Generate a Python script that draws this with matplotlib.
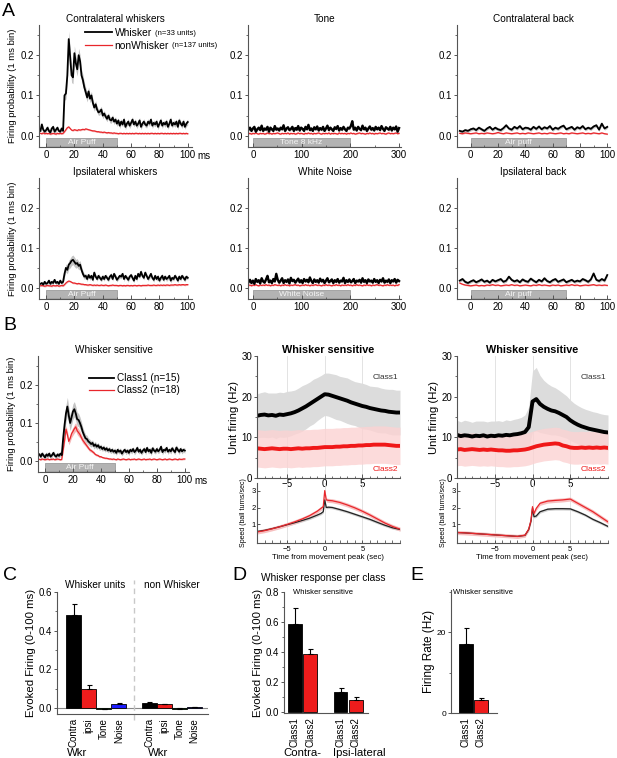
import numpy as np
import matplotlib.pyplot as plt
from matplotlib.ticker import MultipleLocator

plt.rcParams['font.family'] = ['Liberation Sans', 'DejaVu Sans']
plt.rcParams['font.size'] = 7

# ---------------- data ----------------
# A: PSTHs, 1 ms bins (100 ms windows), 3 ms steps (300 ms windows), 2 ms steps (back)
t_a = np.arange(-4, 101)
t_long = np.arange(-9, 301, 3)
t_back = np.arange(-8, 101, 2)

whisker_contra = [
    0.012, 0.028, 0.015, 0.010,
    0.014, 0.020, 0.012, 0.008, 0.018, 0.022, 0.010, 0.015, 0.020, 0.012,
    0.010, 0.018, 0.012, 0.100, 0.105, 0.150, 0.240, 0.195, 0.150, 0.145,
    0.205, 0.180, 0.165, 0.200, 0.185, 0.150, 0.138, 0.120, 0.108, 0.095,
    0.110, 0.092, 0.100, 0.082, 0.070, 0.078, 0.065, 0.058, 0.060, 0.065,
    0.050, 0.055, 0.048, 0.042, 0.050, 0.040, 0.038, 0.045, 0.035, 0.040,
    0.030, 0.038, 0.025, 0.035, 0.028, 0.040, 0.022, 0.030, 0.035, 0.025,
    0.032, 0.040, 0.028, 0.035, 0.025, 0.030, 0.038, 0.022, 0.030, 0.035,
    0.028, 0.025, 0.035, 0.030, 0.040, 0.025, 0.032, 0.028, 0.035, 0.022,
    0.030, 0.038, 0.025, 0.032, 0.028, 0.035, 0.022, 0.030, 0.040, 0.025,
    0.032, 0.028, 0.035, 0.022, 0.038, 0.030, 0.025, 0.035, 0.022, 0.030,
    0.034]
whisker_contra_sem = [
    0.005, 0.005, 0.005, 0.005,
    0.005, 0.006, 0.005, 0.005, 0.006, 0.005, 0.005, 0.006, 0.005, 0.005,
    0.005, 0.006, 0.006, 0.012, 0.014, 0.017, 0.020, 0.020, 0.018, 0.016,
    0.018, 0.018, 0.017, 0.017, 0.016, 0.015, 0.014, 0.013, 0.012, 0.011,
    0.011, 0.010, 0.010, 0.010, 0.009, 0.009, 0.008, 0.008, 0.008, 0.008,
    0.008, 0.007, 0.008, 0.007, 0.007, 0.008, 0.007, 0.007, 0.007, 0.007,
    0.007, 0.006, 0.007, 0.007, 0.006, 0.007, 0.007, 0.006, 0.007, 0.007,
    0.007, 0.007, 0.006, 0.007, 0.007, 0.006, 0.007, 0.007, 0.006, 0.007,
    0.007, 0.006, 0.007, 0.007, 0.006, 0.007, 0.007, 0.006, 0.007, 0.007,
    0.006, 0.007, 0.007, 0.006, 0.007, 0.007, 0.006, 0.007, 0.007, 0.006,
    0.007, 0.007, 0.006, 0.007, 0.007, 0.006, 0.007, 0.007, 0.006, 0.007,
    0.007]
nonwhisker_contra = [
    0.006, 0.005, 0.007, 0.005,
    0.006, 0.005, 0.006, 0.004, 0.005, 0.006, 0.005, 0.004, 0.006, 0.005,
    0.006, 0.005, 0.006, 0.010, 0.015, 0.020, 0.022, 0.018, 0.014, 0.013,
    0.015, 0.014, 0.013, 0.015, 0.014, 0.015, 0.016, 0.015, 0.017, 0.016,
    0.015, 0.014, 0.013, 0.012, 0.012, 0.011, 0.010, 0.010, 0.009, 0.009,
    0.008, 0.009, 0.008, 0.007, 0.008, 0.007, 0.007, 0.006, 0.007, 0.006,
    0.006, 0.005, 0.006, 0.006, 0.005, 0.006, 0.005, 0.006, 0.005, 0.006,
    0.005, 0.006, 0.005, 0.006, 0.006, 0.005, 0.006, 0.005, 0.006, 0.005,
    0.006, 0.005, 0.006, 0.005, 0.006, 0.006, 0.005, 0.006, 0.005, 0.006,
    0.005, 0.006, 0.006, 0.005, 0.006, 0.005, 0.006, 0.005, 0.006, 0.005,
    0.006, 0.005, 0.006, 0.005, 0.006, 0.006, 0.005, 0.006, 0.005, 0.006,
    0.005]

whisker_ipsi = [
    0.010, 0.012, 0.008, 0.015,
    0.010, 0.012, 0.018, 0.010, 0.015, 0.012, 0.020, 0.012, 0.015, 0.010,
    0.018, 0.012, 0.015, 0.035, 0.050, 0.045, 0.058, 0.062, 0.068, 0.070,
    0.065, 0.060, 0.062, 0.055, 0.058, 0.045, 0.035, 0.028, 0.030, 0.022,
    0.032, 0.025, 0.030, 0.020, 0.038, 0.028, 0.022, 0.030, 0.025, 0.020,
    0.028, 0.022, 0.030, 0.025, 0.020, 0.028, 0.032, 0.022, 0.035, 0.028,
    0.020, 0.025, 0.030, 0.028, 0.035, 0.022, 0.030, 0.025, 0.020, 0.028,
    0.032, 0.025, 0.018, 0.030, 0.022, 0.035, 0.028, 0.040, 0.030, 0.025,
    0.038, 0.030, 0.022, 0.028, 0.035, 0.025, 0.020, 0.030, 0.022, 0.028,
    0.018, 0.025, 0.030, 0.020, 0.028, 0.022, 0.025, 0.030, 0.018, 0.025,
    0.022, 0.030, 0.025, 0.018, 0.028, 0.022, 0.030, 0.025, 0.020, 0.028,
    0.025]
whisker_ipsi_sem = [
    0.004, 0.004, 0.004, 0.004,
    0.004, 0.005, 0.004, 0.004, 0.005, 0.004, 0.004, 0.005, 0.004, 0.004,
    0.004, 0.005, 0.004, 0.008, 0.010, 0.010, 0.011, 0.012, 0.012, 0.012,
    0.012, 0.011, 0.011, 0.010, 0.010, 0.009, 0.008, 0.007, 0.006, 0.006,
    0.005, 0.006, 0.005, 0.005, 0.006, 0.005, 0.005, 0.006, 0.005, 0.005,
    0.006, 0.005, 0.005, 0.006, 0.005, 0.005, 0.006, 0.005, 0.005, 0.006,
    0.005, 0.005, 0.006, 0.005, 0.005, 0.006, 0.005, 0.005, 0.006, 0.005,
    0.005, 0.006, 0.005, 0.005, 0.006, 0.005, 0.005, 0.006, 0.005, 0.005,
    0.006, 0.005, 0.005, 0.006, 0.005, 0.005, 0.006, 0.005, 0.005, 0.006,
    0.005, 0.005, 0.006, 0.005, 0.005, 0.006, 0.005, 0.005, 0.006, 0.005,
    0.005, 0.006, 0.005, 0.005, 0.006, 0.005, 0.005, 0.006, 0.005, 0.005,
    0.005]
nonwhisker_ipsi = [
    0.005, 0.006, 0.005, 0.004,
    0.005, 0.006, 0.005, 0.005, 0.004, 0.006, 0.005, 0.005, 0.006, 0.004,
    0.005, 0.006, 0.005, 0.008, 0.012, 0.015, 0.017, 0.016, 0.014, 0.012,
    0.012, 0.011, 0.010, 0.011, 0.010, 0.009, 0.009, 0.008, 0.008, 0.007,
    0.007, 0.008, 0.007, 0.006, 0.007, 0.006, 0.007, 0.006, 0.006, 0.007,
    0.006, 0.006, 0.007, 0.006, 0.005, 0.006, 0.006, 0.007, 0.006, 0.006,
    0.006, 0.005, 0.006, 0.006, 0.005, 0.006, 0.005, 0.006, 0.006, 0.005,
    0.006, 0.005, 0.006, 0.006, 0.005, 0.006, 0.006, 0.005, 0.006, 0.006,
    0.006, 0.006, 0.007, 0.006, 0.006, 0.006, 0.007, 0.006, 0.006, 0.007,
    0.006, 0.007, 0.006, 0.007, 0.006, 0.007, 0.007, 0.006, 0.007, 0.007,
    0.007, 0.008, 0.007, 0.007, 0.008, 0.007, 0.008, 0.008, 0.007, 0.008,
    0.008]

tone_whisker = [
    0.015, 0.020, 0.012, 0.018, 0.022, 0.010, 0.016, 0.020, 0.014, 0.025,
    0.012, 0.018, 0.015, 0.022, 0.010, 0.020, 0.016, 0.012, 0.024, 0.015,
    0.018, 0.013, 0.020, 0.016, 0.026, 0.012, 0.018, 0.021, 0.014, 0.017,
    0.022, 0.012, 0.019, 0.015, 0.024, 0.013, 0.020, 0.017, 0.012, 0.022,
    0.016, 0.027, 0.014, 0.018, 0.012, 0.021, 0.016, 0.023, 0.013, 0.019,
    0.015, 0.022, 0.012, 0.018, 0.025, 0.014, 0.020, 0.016, 0.012, 0.021,
    0.017, 0.024, 0.013, 0.019, 0.015, 0.022, 0.016, 0.012, 0.020, 0.018,
    0.024, 0.036, 0.015, 0.020, 0.013, 0.022, 0.017, 0.014, 0.025, 0.016,
    0.020, 0.012, 0.018, 0.023, 0.015, 0.019, 0.013, 0.022, 0.016, 0.020,
    0.014, 0.024, 0.017, 0.012, 0.021, 0.018, 0.015, 0.022, 0.013, 0.020,
    0.016, 0.023, 0.010, 0.019]
tone_nonwhisker = [
    0.005, 0.006, 0.004, 0.006, 0.005, 0.007, 0.005, 0.004, 0.006, 0.005,
    0.006, 0.004, 0.005, 0.007, 0.005, 0.006, 0.004, 0.006, 0.005, 0.006,
    0.007, 0.005, 0.004, 0.006, 0.005, 0.006, 0.005, 0.007, 0.004, 0.006,
    0.005, 0.006, 0.004, 0.005, 0.007, 0.005, 0.006, 0.005, 0.004, 0.006,
    0.005, 0.007, 0.005, 0.006, 0.004, 0.006, 0.005, 0.006, 0.007, 0.005,
    0.004, 0.006, 0.005, 0.006, 0.005, 0.007, 0.004, 0.006, 0.005, 0.006,
    0.005, 0.004, 0.007, 0.005, 0.006, 0.005, 0.006, 0.004, 0.006, 0.005,
    0.007, 0.005, 0.006, 0.004, 0.005, 0.006, 0.007, 0.005, 0.006, 0.005,
    0.004, 0.006, 0.005, 0.007, 0.005, 0.006, 0.004, 0.006, 0.005, 0.006,
    0.007, 0.005, 0.006, 0.005, 0.004, 0.006, 0.007, 0.005, 0.006, 0.005,
    0.006, 0.007, 0.005, 0.006]

noise_whisker = [
    0.014, 0.020, 0.012, 0.018, 0.010, 0.022, 0.015, 0.019, 0.011, 0.024,
    0.016, 0.013, 0.021, 0.030, 0.014, 0.018, 0.012, 0.022, 0.016, 0.035,
    0.020, 0.013, 0.018, 0.024, 0.012, 0.019, 0.015, 0.021, 0.011, 0.025,
    0.017, 0.020, 0.013, 0.018, 0.023, 0.014, 0.019, 0.012, 0.022, 0.016,
    0.020, 0.014, 0.026, 0.017, 0.012, 0.021, 0.015, 0.019, 0.013, 0.023,
    0.016, 0.020, 0.012, 0.018, 0.024, 0.014, 0.017, 0.021, 0.012, 0.019,
    0.015, 0.022, 0.013, 0.018, 0.016, 0.025, 0.012, 0.019, 0.015, 0.021,
    0.014, 0.017, 0.022, 0.012, 0.018, 0.016, 0.020, 0.013, 0.024, 0.015,
    0.019, 0.012, 0.021, 0.016, 0.018, 0.013, 0.022, 0.015, 0.019, 0.012,
    0.020, 0.016, 0.024, 0.013, 0.018, 0.015, 0.021, 0.012, 0.019, 0.016,
    0.022, 0.013, 0.020, 0.017]
noise_nonwhisker = [
    0.006, 0.007, 0.005, 0.007, 0.006, 0.008, 0.006, 0.005, 0.007, 0.006,
    0.007, 0.006, 0.008, 0.006, 0.007, 0.005, 0.007, 0.006, 0.008, 0.007,
    0.006, 0.007, 0.005, 0.007, 0.006, 0.008, 0.006, 0.007, 0.005, 0.007,
    0.006, 0.007, 0.008, 0.006, 0.007, 0.005, 0.006, 0.007, 0.006, 0.008,
    0.006, 0.007, 0.005, 0.007, 0.006, 0.007, 0.008, 0.006, 0.007, 0.006,
    0.005, 0.007, 0.006, 0.008, 0.006, 0.007, 0.006, 0.005, 0.007, 0.006,
    0.008, 0.006, 0.007, 0.005, 0.007, 0.006, 0.007, 0.006, 0.008, 0.006,
    0.007, 0.005, 0.007, 0.006, 0.008, 0.006, 0.007, 0.006, 0.005, 0.007,
    0.006, 0.008, 0.006, 0.007, 0.005, 0.007, 0.006, 0.007, 0.008, 0.006,
    0.007, 0.006, 0.005, 0.007, 0.006, 0.008, 0.006, 0.007, 0.006, 0.007,
    0.005, 0.007, 0.006, 0.008]

back_contra_whisker = [
    0.012, 0.010, 0.014, 0.012, 0.016, 0.018, 0.014, 0.020, 0.016, 0.012,
    0.018, 0.022, 0.015, 0.020, 0.016, 0.014, 0.019, 0.026, 0.018, 0.015,
    0.022, 0.018, 0.024, 0.016, 0.020, 0.019, 0.015, 0.022, 0.017, 0.023,
    0.016, 0.021, 0.018, 0.024, 0.015, 0.020, 0.017, 0.022, 0.025, 0.016,
    0.019, 0.022, 0.015, 0.021, 0.018, 0.024, 0.016, 0.020, 0.017, 0.023,
    0.026, 0.015, 0.030, 0.018, 0.022]
back_contra_nonwhisker = [
    0.006, 0.005, 0.007, 0.006, 0.005, 0.006, 0.007, 0.005, 0.006, 0.005,
    0.007, 0.006, 0.005, 0.006, 0.008, 0.006, 0.005, 0.007, 0.006, 0.005,
    0.006, 0.007, 0.005, 0.006, 0.005, 0.007, 0.006, 0.005, 0.006, 0.007,
    0.005, 0.006, 0.005, 0.007, 0.006, 0.005, 0.006, 0.007, 0.005, 0.006,
    0.005, 0.007, 0.006, 0.005, 0.006, 0.007, 0.005, 0.006, 0.005, 0.007,
    0.006, 0.005, 0.007, 0.005, 0.004]
back_ipsi_whisker = [
    0.018, 0.022, 0.015, 0.012, 0.016, 0.019, 0.014, 0.017, 0.021, 0.015,
    0.018, 0.013, 0.020, 0.016, 0.019, 0.022, 0.015, 0.018, 0.028, 0.020,
    0.016, 0.019, 0.014, 0.021, 0.017, 0.015, 0.023, 0.018, 0.014, 0.020,
    0.016, 0.024, 0.017, 0.014, 0.019, 0.022, 0.015, 0.018, 0.021, 0.014,
    0.017, 0.020, 0.015, 0.018, 0.016, 0.022, 0.019, 0.015, 0.021, 0.036,
    0.020, 0.017, 0.022, 0.018, 0.032]
back_ipsi_nonwhisker = [
    0.012, 0.009, 0.007, 0.006, 0.005, 0.006, 0.007, 0.005, 0.006, 0.005,
    0.007, 0.006, 0.008, 0.006, 0.007, 0.005, 0.006, 0.007, 0.006, 0.008,
    0.006, 0.007, 0.005, 0.006, 0.007, 0.006, 0.005, 0.007, 0.006, 0.008,
    0.006, 0.007, 0.006, 0.005, 0.007, 0.006, 0.007, 0.005, 0.006, 0.007,
    0.006, 0.008, 0.006, 0.007, 0.005, 0.006, 0.007, 0.006, 0.007, 0.008,
    0.006, 0.007, 0.006, 0.007, 0.006]

# B left: whisker sensitive units split by class
class1_psth = [
    0.018, 0.012, 0.020, 0.015,
    0.010, 0.018, 0.014, 0.020, 0.012, 0.016, 0.022, 0.015, 0.012, 0.018,
    0.014, 0.020, 0.016, 0.060, 0.095, 0.125, 0.143, 0.120, 0.100, 0.115,
    0.130, 0.136, 0.125, 0.110, 0.108, 0.100, 0.090, 0.077, 0.068, 0.060,
    0.058, 0.052, 0.049, 0.045, 0.048, 0.040, 0.044, 0.038, 0.042, 0.035,
    0.038, 0.032, 0.036, 0.030, 0.034, 0.028, 0.032, 0.026, 0.030, 0.025,
    0.028, 0.022, 0.030, 0.025, 0.028, 0.020, 0.026, 0.030, 0.024, 0.028,
    0.022, 0.030, 0.026, 0.032, 0.024, 0.028, 0.035, 0.025, 0.030, 0.022,
    0.028, 0.032, 0.024, 0.035, 0.026, 0.030, 0.022, 0.034, 0.028, 0.025,
    0.032, 0.026, 0.030, 0.038, 0.024, 0.030, 0.028, 0.035, 0.025, 0.030,
    0.026, 0.034, 0.028, 0.024, 0.036, 0.030, 0.025, 0.032, 0.026, 0.030,
    0.028]
class1_sem = [
    0.006, 0.006, 0.006, 0.006,
    0.006, 0.007, 0.006, 0.006, 0.007, 0.006, 0.006, 0.007, 0.006, 0.006,
    0.006, 0.007, 0.006, 0.015, 0.020, 0.022, 0.024, 0.022, 0.020, 0.020,
    0.020, 0.020, 0.019, 0.018, 0.017, 0.016, 0.014, 0.012, 0.011, 0.010,
    0.010, 0.009, 0.009, 0.008, 0.008, 0.008, 0.008, 0.007, 0.007, 0.007,
    0.007, 0.006, 0.007, 0.006, 0.007, 0.006, 0.007, 0.006, 0.007, 0.006,
    0.007, 0.006, 0.007, 0.006, 0.007, 0.006, 0.007, 0.006, 0.007, 0.006,
    0.007, 0.006, 0.007, 0.006, 0.007, 0.006, 0.007, 0.006, 0.007, 0.006,
    0.007, 0.006, 0.007, 0.006, 0.007, 0.006, 0.007, 0.006, 0.007, 0.006,
    0.007, 0.006, 0.007, 0.006, 0.007, 0.006, 0.007, 0.006, 0.007, 0.006,
    0.007, 0.006, 0.007, 0.006, 0.007, 0.006, 0.007, 0.006, 0.007, 0.006,
    0.007]
class2_psth = [
    0.005, 0.004, 0.006, 0.005,
    0.004, 0.005, 0.006, 0.004, 0.005, 0.005, 0.006, 0.004, 0.005, 0.006,
    0.005, 0.004, 0.005, 0.030, 0.055, 0.084, 0.070, 0.052, 0.060, 0.072,
    0.078, 0.085, 0.090, 0.080, 0.075, 0.070, 0.062, 0.055, 0.050, 0.045,
    0.040, 0.035, 0.030, 0.028, 0.025, 0.022, 0.018, 0.016, 0.015, 0.012,
    0.012, 0.010, 0.009, 0.008, 0.008, 0.007, 0.006, 0.006, 0.005, 0.006,
    0.005, 0.004, 0.006, 0.005, 0.004, 0.005, 0.006, 0.005, 0.004, 0.005,
    0.006, 0.004, 0.005, 0.005, 0.006, 0.004, 0.005, 0.006, 0.005, 0.004,
    0.005, 0.006, 0.004, 0.005, 0.005, 0.006, 0.004, 0.005, 0.006, 0.005,
    0.004, 0.005, 0.006, 0.005, 0.004, 0.005, 0.006, 0.004, 0.005, 0.006,
    0.005, 0.004, 0.005, 0.006, 0.005, 0.004, 0.006, 0.005, 0.005, 0.006,
    0.006]
class2_sem = [
    0.002, 0.002, 0.002, 0.002,
    0.002, 0.002, 0.002, 0.002, 0.002, 0.002, 0.002, 0.002, 0.002, 0.002,
    0.002, 0.002, 0.002, 0.006, 0.008, 0.010, 0.010, 0.009, 0.009, 0.010,
    0.010, 0.011, 0.011, 0.010, 0.010, 0.009, 0.008, 0.008, 0.007, 0.006,
    0.006, 0.005, 0.005, 0.004, 0.004, 0.004, 0.003, 0.003, 0.003, 0.003,
    0.002, 0.002, 0.002, 0.002, 0.002, 0.002, 0.002, 0.002, 0.002, 0.002,
    0.002, 0.002, 0.002, 0.002, 0.002, 0.002, 0.002, 0.002, 0.002, 0.002,
    0.002, 0.002, 0.002, 0.002, 0.002, 0.002, 0.002, 0.002, 0.002, 0.002,
    0.002, 0.002, 0.002, 0.002, 0.002, 0.002, 0.002, 0.002, 0.002, 0.002,
    0.002, 0.002, 0.002, 0.002, 0.002, 0.002, 0.002, 0.002, 0.002, 0.002,
    0.002, 0.002, 0.002, 0.002, 0.002, 0.002, 0.002, 0.002, 0.002, 0.002,
    0.002]

# B middle/right: firing around movement peak (0.5 s steps) and ball speed
t_move = np.arange(-10, 10.5, 0.5)
mid_class1 = [15.4, 15.6, 15.3, 15.5, 15.6, 15.4, 15.5, 15.3, 15.6, 15.5,
              15.7, 15.9, 16.2, 16.6, 17.1, 17.6, 18.2, 18.8, 19.4, 20.0,
              20.6, 20.5, 20.2, 19.9, 19.6, 19.3, 19.0, 18.6, 18.3, 18.0,
              17.7, 17.5, 17.2, 17.0, 16.8, 16.6, 16.5, 16.3, 16.2, 16.1, 16.1]
mid_class1_sd = [5.5, 5.6, 5.4, 5.5, 5.6, 5.5, 5.4, 5.6, 5.5, 5.5,
                 5.6, 5.5, 5.4, 5.5, 5.6, 5.5, 5.4, 5.5, 5.3, 5.2,
                 5.2, 5.3, 5.4, 5.5, 5.4, 5.5, 5.6, 5.5, 5.4, 5.5,
                 5.6, 5.5, 5.4, 5.5, 5.6, 5.5, 5.4, 5.5, 5.6, 5.5, 5.5]
mid_class2 = [7.2, 7.1, 7.3, 7.2, 7.1, 7.2, 7.3, 7.2, 7.1, 7.2,
              7.2, 7.1, 7.2, 7.3, 7.2, 7.3, 7.3, 7.4, 7.4, 7.5,
              7.6, 7.6, 7.6, 7.7, 7.7, 7.8, 7.8, 7.9, 7.9, 8.0,
              8.0, 8.1, 8.1, 8.2, 8.2, 8.2, 8.2, 8.1, 8.0, 7.9, 7.9]
mid_class2_sd = 4.6
right_class1 = [10.6, 10.3, 10.5, 10.4, 10.2, 10.4, 10.3, 10.5, 10.2, 10.4,
                10.3, 10.5, 10.4, 10.6, 10.5, 10.7, 10.8, 11.0, 11.3, 12.5,
                18.8, 19.4, 18.2, 17.5, 17.0, 16.6, 16.4, 16.0, 15.5, 15.0,
                14.2, 13.6, 13.1, 12.7, 12.4, 12.1, 11.9, 11.7, 11.5, 11.3, 11.2]
right_class1_sd = [3.6, 3.5, 3.7, 3.6, 3.5, 3.6, 3.7, 3.5, 3.6, 3.6,
                   3.7, 3.6, 3.5, 3.7, 3.6, 3.7, 3.8, 3.9, 4.2, 5.0,
                   7.5, 7.8, 7.0, 6.5, 6.2, 6.0, 5.8, 5.6, 5.4, 5.2,
                   5.0, 4.8, 4.7, 4.6, 4.5, 4.5, 4.4, 4.4, 4.3, 4.3, 4.3]
right_class2 = [7.0, 7.1, 6.9, 7.0, 7.1, 7.0, 6.9, 7.0, 6.9, 7.0,
                6.9, 6.8, 6.8, 6.7, 6.7, 6.8, 6.8, 6.9, 7.0, 7.2,
                7.5, 7.8, 8.0, 8.2, 8.3, 8.4, 8.5, 8.4, 8.0, 7.8,
                7.5, 7.4, 7.4, 7.5, 7.4, 7.5, 7.4, 7.5, 7.4, 7.5, 7.4]
right_class2_sd = 4.0

t_speed = [-10, -9, -8, -7, -6, -5, -4, -3, -2, -1, -0.5, -0.2, 0,
           0.2, 0.5, 1, 2, 3, 4, 5, 6, 7, 8, 9, 10]
mid_speed1 = [0.55, 0.58, 0.65, 0.75, 0.86, 0.98, 1.10, 1.23, 1.37, 1.55, 1.65, 1.75, 2.45,
              2.00, 2.02, 2.00, 1.88, 1.75, 1.60, 1.45, 1.30, 1.12, 0.95, 0.80, 0.70]
mid_speed2 = [0.50, 0.55, 0.63, 0.74, 0.86, 1.00, 1.15, 1.32, 1.52, 1.78, 1.95, 2.05, 3.00,
              2.45, 2.42, 2.40, 2.30, 2.15, 1.98, 1.78, 1.56, 1.32, 1.08, 0.88, 0.72]
right_speed1 = [0.52, 0.50, 0.47, 0.44, 0.41, 0.38, 0.35, 0.32, 0.29, 0.35, 0.70, 1.20, 1.95,
                1.45, 1.50, 1.75, 1.90, 1.93, 1.93, 1.92, 1.75, 1.55, 1.30, 1.10, 0.88]
right_speed2 = [0.52, 0.50, 0.47, 0.44, 0.41, 0.38, 0.35, 0.32, 0.29, 0.36, 0.72, 1.25, 2.05,
                1.65, 1.95, 2.25, 2.38, 2.42, 2.45, 2.50, 2.25, 2.00, 1.75, 1.45, 1.15]
speed_sem1 = 0.08
speed_sem2 = 0.12

# C: evoked firing 0-100 ms
stim_labels = ['Contra', 'ipsi', 'Tone', 'Noise']
stim_colors = ['black', '#ee1c1c', '#007a00', '#1c1cff']
wkr_evoked = [0.48, 0.10, -0.005, 0.020]
wkr_evoked_err = [0.060, 0.018, 0.003, 0.008]
nonwkr_evoked = [0.027, 0.020, -0.003, 0.005]
nonwkr_evoked_err = [0.003, 0.004, 0.002, 0.002]

# D: whisker response per class
class_labels = ['Class1', 'Class2']
contra_class = [0.585, 0.385]
contra_class_err = [0.105, 0.035]
ipsi_class = [0.130, 0.075]
ipsi_class_err = [0.030, 0.020]

# E: baseline firing rate per class
rate_class = [17.2, 3.2]
rate_class_err = [4.0, 0.6]

# ---------------- figure ----------------
W, H = 617, 758
fig = plt.figure(figsize=(W / 100, H / 100), dpi=100)
SPINE = '#555555'
RED = '#e8262b'


def add_ax(x0, y0, x1, y1):
    return fig.add_axes([x0 / W, 1 - y1 / H, (x1 - x0) / W, (y1 - y0) / H])


def clean(ax, labelsize=7):
    for s in ('top', 'right'):
        ax.spines[s].set_visible(False)
    for s in ('left', 'bottom'):
        ax.spines[s].set_color(SPINE)
        ax.spines[s].set_linewidth(0.8)
    ax.tick_params(colors=SPINE, labelcolor='black', labelsize=labelsize,
                   length=3, width=0.7, pad=2)
    ax.tick_params(which='minor', length=1.8, width=0.6, colors=SPINE)
    ax.tick_params(axis='y', which='major', length=2.5, pad=1)


def psth(ax, t, black, black_sem, red, red_sem, xlim, major, minor,
         title, stim_end, stim_label, black_lw=1.3):
    black = np.asarray(black)
    red = np.asarray(red)
    ax.fill_between(t, black - np.asarray(black_sem), black + np.asarray(black_sem),
                    color='#c4c4c4', lw=0)
    ax.fill_between(t, red - np.asarray(red_sem), red + np.asarray(red_sem),
                    color='#f5b8b8', lw=0)
    ax.plot(t, red, color=RED, lw=0.9)
    ax.plot(t, black, color='black', lw=black_lw)
    ax.broken_barh([(0, stim_end)], (-0.0265, 0.021), facecolors='#b3b3b3',
                   edgecolor='#8f8f8f', lw=0.5)
    ax.text(stim_end / 2, -0.016, stim_label, color='#f4f4f4', fontsize=6,
            ha='center', va='center')
    ax.set_xlim(*xlim)
    ax.set_ylim(-0.028, 0.275)
    ax.set_yticks([0, 0.1, 0.2])
    ax.set_yticklabels(['0.0', '0.1', '0.2'])
    ax.yaxis.set_minor_locator(MultipleLocator(0.05))
    ax.xaxis.set_major_locator(MultipleLocator(major))
    ax.xaxis.set_minor_locator(MultipleLocator(minor))
    clean(ax)
    ax.tick_params(axis='x', which='both', direction='in')
    ax.set_title(title, fontsize=7.2, pad=2)


def ms_label(ax):
    ax.annotate('ms', xy=(1, 0), xycoords='axes fraction', xytext=(4, -3),
                textcoords='offset points', ha='left', va='top', fontsize=7)


ylab_psth = 'Firing probability (1 ms bin)'

# ---- A ----
ax = add_ax(39, 25, 192, 147)
psth(ax, t_a, whisker_contra, whisker_contra_sem, nonwhisker_contra, 0.002,
     (-5, 103), 20, 10, 'Contralateral whiskers', 50, 'Air Puff')
ax.set_ylabel(ylab_psth, fontsize=6.8, labelpad=3)
ms_label(ax)
leg_a = ax.legend(handles=ax.lines[::-1], labels=['Whisker', 'nonWhisker'],
                  loc='upper left', bbox_to_anchor=(0.30, 0.975), frameon=False,
                  fontsize=7.4, handlelength=2.6, handletextpad=0.3,
                  labelspacing=0.25, borderpad=0, borderaxespad=0)

ax = add_ax(248, 25, 401, 147)
psth(ax, t_long, tone_whisker, 0.004, tone_nonwhisker, 0.0015,
     (-10, 304), 100, 50, 'Tone', 200, 'Tone 8 kHz', black_lw=1.7)

ax = add_ax(457, 25, 610, 147)
psth(ax, t_back, back_contra_whisker, 0.004, back_contra_nonwhisker, 0.0015,
     (-10, 102), 20, 10, 'Contralateral back', 70, 'Air puff')

ax = add_ax(39, 178, 192, 299)
psth(ax, t_a, whisker_ipsi, whisker_ipsi_sem, nonwhisker_ipsi, 0.002,
     (-5, 103), 20, 10, 'Ipsilateral whiskers', 50, 'Air Puff')
ax.set_ylabel(ylab_psth, fontsize=6.8, labelpad=3)

ax = add_ax(248, 178, 401, 299)
psth(ax, t_long, noise_whisker, 0.004, noise_nonwhisker, 0.0015,
     (-10, 304), 100, 50, 'White Noise', 200, 'White Noise', black_lw=1.7)

ax = add_ax(457, 178, 610, 299)
psth(ax, t_back, back_ipsi_whisker, 0.004, back_ipsi_nonwhisker, 0.0015,
     (-10, 102), 20, 10, 'Ipsilateral back', 70, 'Air puff')

# ---- B left ----
ax = add_ax(38, 356, 189, 472)
psth(ax, t_a, class1_psth, class1_sem, class2_psth, class2_sem,
     (-5, 103), 20, 10, 'Whisker sensitive', 50, 'Air Puff')
ax.set_ylabel(ylab_psth, fontsize=6.8, labelpad=3)
ms_label(ax)
ax.legend(handles=ax.lines[::-1], labels=['Class1 (n=15)', 'Class2 (n=18)'],
          loc='upper left', bbox_to_anchor=(0.34, 0.85), frameon=False,
          fontsize=7.2, handlelength=2.5, handletextpad=0.3,
          labelspacing=0.2, borderpad=0, borderaxespad=0)


# ---- B middle / right ----
def move_panels(x0, x1, xlim, c1, c1_sd, c2, c2_sd, sp1, sp2):
    top = add_ax(x0, 356, x1, 478)
    c1 = np.asarray(c1)
    c2 = np.asarray(c2)
    for v in (-5, 0, 5):
        top.axvline(v, color='#dedede', lw=0.6, zorder=0)
    top.fill_between(t_move, c1 - np.asarray(c1_sd), c1 + np.asarray(c1_sd),
                     color='#dcdcdc', lw=0)
    top.fill_between(t_move, c2 - np.asarray(c2_sd), c2 + np.asarray(c2_sd),
                     color='#fcd2d2', lw=0, alpha=0.8)
    top.plot(t_move, c2, color='#f01818', lw=2.8)
    top.plot(t_move, c1, color='black', lw=2.8)
    top.set_xlim(*xlim)
    top.set_ylim(0, 30)
    top.set_yticks([0, 10, 20, 30])
    top.yaxis.set_minor_locator(MultipleLocator(5))
    top.set_xticks([-5, 0, 5])
    top.xaxis.set_minor_locator(MultipleLocator(1))
    clean(top)
    top.tick_params(axis='x', which='both', direction='in', pad=1)
    top.set_title('Whisker sensitive', fontsize=7.8, fontweight='bold', pad=2)
    top.set_ylabel('Unit firing (Hz)', fontsize=8.2, labelpad=2)
    top.text(0.99, 0.82, 'Class1', transform=top.transAxes, ha='right',
             va='center', fontsize=6, color='#333333')
    top.text(0.99, 0.07, 'Class2', transform=top.transAxes, ha='right',
             va='center', fontsize=6, color='#f01818')

    bot = add_ax(x0, 483, x1, 543)
    bot.patch.set_alpha(0)
    for v in (-5, 0, 5):
        bot.axvline(v, color='#dedede', lw=0.6, zorder=0)
    sp1 = np.asarray(sp1)
    sp2 = np.asarray(sp2)
    bot.fill_between(t_speed, sp1 - speed_sem1, sp1 + speed_sem1, color='#cfcfcf', lw=0)
    bot.fill_between(t_speed, sp2 - speed_sem2, sp2 + speed_sem2, color='#f7c0c0', lw=0)
    bot.plot(t_speed, sp1, color='#222222', lw=0.9)
    bot.plot(t_speed, sp2, color='#e8262b', lw=0.9)
    bot.set_xlim(*xlim)
    bot.set_ylim(-0.1, 3.45)
    bot.set_yticks([1, 2, 3])
    bot.set_xticks([-5, 0, 5])
    bot.xaxis.set_minor_locator(MultipleLocator(1))
    clean(bot, labelsize=5.5)
    bot.tick_params(axis='both', which='both', direction='in', length=2)
    bot.set_xlabel('Time from movement peak (sec)', fontsize=5.6, labelpad=1)
    bot.set_ylabel('Speed (ball turns/sec)', fontsize=5, labelpad=3)


move_panels(257, 400, (-9, 10), mid_class1, mid_class1_sd, mid_class2, mid_class2_sd,
            mid_speed1, mid_speed2)
move_panels(457, 608, (-10, 10), right_class1, right_class1_sd, right_class2,
            right_class2_sd, right_speed1, right_speed2)


def bars(ax, x, vals, errs, colors, width):
    ax.bar(x, vals, width=width, color=colors, edgecolor='black', lw=0.6, zorder=2)
    ax.errorbar(x, vals, yerr=[np.zeros(len(errs)), errs], fmt='none',
                ecolor='black', elinewidth=0.8, capsize=1.8, capthick=0.8, zorder=3)


# ---- C ----
ax = add_ax(57, 592, 208, 714)
xw = [0, 1, 2, 3]
xn = [5, 6, 7, 8]
ax.axhline(0, color='#888888', lw=0.8, zorder=1)
bars(ax, xw, wkr_evoked, wkr_evoked_err, stim_colors, 1.0)
bars(ax, xn, nonwkr_evoked, nonwkr_evoked_err, stim_colors, 1.0)
ax.axvline(4, ymin=-0.05, ymax=1.1, color='#c8c8c8', ls=(0, (4, 3)), lw=1.0,
           clip_on=False)
ax.set_xlim(-1.1, 8.9)
ax.set_ylim(-0.03, 0.6)
ax.set_yticks([0, 0.2, 0.4, 0.6])
ax.set_yticklabels(['0.0', '0.2', '0.4', '0.6'])
ax.yaxis.set_minor_locator(MultipleLocator(0.1))
ax.set_xticks(xw + xn)
ax.set_xticklabels(stim_labels + stim_labels, rotation=90, fontsize=6.5)
clean(ax)
ax.tick_params(axis='x', length=0, pad=3)
ax.set_ylabel('Evoked Firing (0-100 ms)', fontsize=8.2, labelpad=2)
ax.text(1.4, 1.06, 'Whisker units', transform=ax.get_xaxis_transform(),
        ha='center', va='center', fontsize=7.2)
ax.text(6.5, 1.06, 'non Whisker', transform=ax.get_xaxis_transform(),
        ha='center', va='center', fontsize=7.2)
for xpos in (0.2, 5.6):
    ax.text(xpos, -0.32, 'Wkr', transform=ax.get_xaxis_transform(),
            ha='center', va='center', fontsize=8.2)

# ---- D ----
ax = add_ax(284, 592, 368, 713)
xc = [0, 1]
xi = [3, 4]
bars(ax, xc, contra_class, contra_class_err, ['black', '#ee1c1c'], 0.88)
bars(ax, xi, ipsi_class, ipsi_class_err, ['black', '#ee1c1c'], 0.88)
ax.set_xlim(-0.72, 4.8)
ax.set_ylim(-0.01, 0.8)
ax.set_yticks([0, 0.2, 0.4, 0.6, 0.8])
ax.set_yticklabels(['0.0', '0.2', '0.4', '0.6', '0.8'])
ax.yaxis.set_minor_locator(MultipleLocator(0.1))
ax.set_xticks(xc + xi)
ax.set_xticklabels(class_labels + class_labels, rotation=90, fontsize=6)
clean(ax)
ax.tick_params(axis='x', length=0, pad=3)
ax.set_ylabel('Evoked Firing (0-100 ms)', fontsize=8.2, labelpad=2)
ax.text(0.5, -0.33, 'Contra-', transform=ax.get_xaxis_transform(),
        ha='center', va='center', fontsize=8.2)
ax.text(4.2, -0.33, 'Ipsi-lateral', transform=ax.get_xaxis_transform(),
        ha='center', va='center', fontsize=8.2)
fig.text(323 / W, 1 - 578 / H, 'Whisker response per class', ha='center',
         va='center', fontsize=7.3)
fig.text(323 / W, 1 - 593 / H, 'Whisker sensitive', ha='center', va='center',
         fontsize=5.5)

# ---- E ----
ax = add_ax(451, 590, 497, 713)
xe = [0, 1]
bars(ax, xe, rate_class, rate_class_err, ['black', '#ee1c1c'], 0.9)
ax.set_xlim(-1.0, 2.07)
ax.set_ylim(0, 30.5)
ax.set_yticks([0, 20])
ax.yaxis.set_minor_locator(MultipleLocator(10))
ax.set_xticks(xe)
ax.set_xticklabels(class_labels, rotation=90, fontsize=6)
clean(ax)
ax.tick_params(axis='x', length=0, pad=3)
ax.tick_params(axis='y', labelsize=6)
ax.set_ylabel('Firing Rate (Hz)', fontsize=8.5, labelpad=1)
ax.text(0.05, 0.98, 'Whisker sensitive', transform=ax.transAxes, ha='left',
        va='center', fontsize=5.5)

# panel letters
for letter, x, y in [('A', 2, 12), ('B', 3, 325), ('C', 3, 575), ('D', 232, 575), ('E', 410, 575)]:
    fig.text(x / W, 1 - y / H, letter, fontsize=14, ha='left', va='center')

# small unit counts next to the panel A legend entries
fig.canvas.draw()
inv = fig.transFigure.inverted()
for txt, n in zip(leg_a.get_texts(), ['(n=33 units)', '(n=137 units)']):
    bb = txt.get_window_extent()
    fx, fy = inv.transform((bb.x1, bb.y0))
    fig.text(fx + 3 / W, fy + 1.5 / H, n, fontsize=5.5, ha='left', va='bottom')

fig.savefig('out.png', dpi=100)
